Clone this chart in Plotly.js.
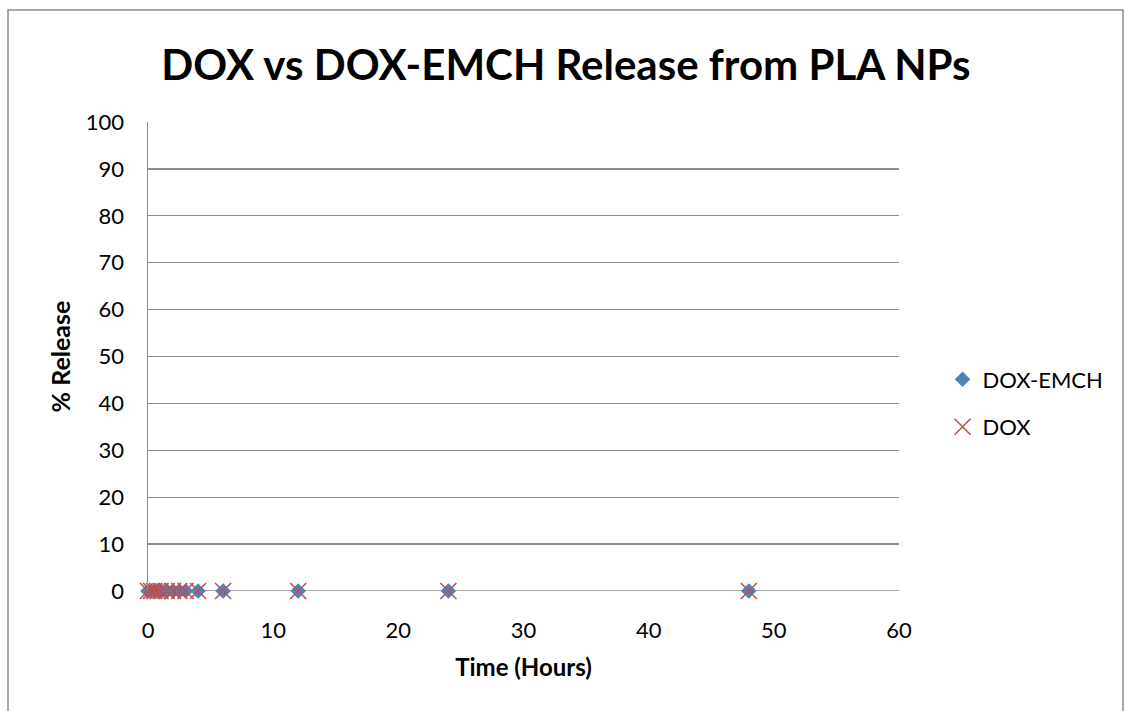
<!DOCTYPE html>
<html>
<head>
<meta charset="utf-8">
<script src="https://cdn.plot.ly/plotly-3.0.1.min.js"></script>
<style>
  html, body { margin: 0; padding: 0; background: #fff; }
  #chart { width: 1125px; height: 711px; }
</style>
</head>
<body>
<div id="chart"></div>
<script>
// Sampling times (hours) and cumulative % release for each formulation
const timeHours = [0, 0.25, 0.5, 0.75, 1, 1.5, 2, 2.5, 3, 4, 6, 12, 24, 48];
const doxEmchRelease = [0, 0, 0, 0, 0, 0, 0, 0, 0, 0, 0, 0, 0, 0];
const doxRelease = [0, 0, 0, 0, 0, 0, 0, 0, 0, 0, 0, 0, 0, 0];

const xTicks = [0, 10, 20, 30, 40, 50, 60];
const yTicks = [0, 10, 20, 30, 40, 50, 60, 70, 80, 90, 100];

const FONT = 'Lato, "Open Sans", sans-serif';

const traces = [
  {
    x: timeHours, y: doxEmchRelease, name: 'DOX-EMCH', legendgroup: 'a',
    type: 'scatter', mode: 'markers', cliponaxis: false,
    marker: { symbol: 'diamond', size: 12, color: '#4F81BD' }
  },
  {
    x: timeHours, y: doxRelease, name: 'DOX', legendgroup: 'b',
    type: 'scatter', mode: 'markers', cliponaxis: false,
    marker: { symbol: 'x-thin-open', size: 16, color: '#C0504D',
              line: { color: '#C0504D', width: 1.6 } }
  }
];

const layout = {
  width: 1125, height: 711,
  margin: { l: 148, r: 226, t: 122, b: 120 },
  paper_bgcolor: '#ffffff', plot_bgcolor: '#ffffff',
  font: { family: FONT, color: '#000', size: 22 },
  title: {
    text: '<b>DOX vs DOX-EMCH Release from PLA NPs</b>',
    font: { family: FONT, size: 42, color: '#000' },
    x: 0.503, xanchor: 'center', y: 0.908, yanchor: 'middle'
  },
  xaxis: {
    range: [0, 60], tickvals: xTicks, ticktext: xTicks.map(String),
    showgrid: false, zeroline: false, showline: false,
    ticks: 'outside', ticklen: 20, tickcolor: 'rgba(0,0,0,0)',
    tickfont: { family: FONT, size: 22 },
    title: { text: '<b>Time (Hours)</b>', font: { family: FONT, size: 24 }, standoff: 16 }
  },
  yaxis: {
    range: [0, 100], tickvals: yTicks, ticktext: yTicks.map(String),
    showgrid: true, gridcolor: '#8c8c8c', gridwidth: 1.3,
    zeroline: false, showline: true, linecolor: '#8c8c8c', linewidth: 1.5,
    ticks: 'outside', ticklen: 18, tickcolor: 'rgba(0,0,0,0)',
    tickfont: { family: FONT, size: 22 },
    title: { text: '<b>% Release</b>', font: { family: FONT, size: 25 }, standoff: 8 }
  },
  showlegend: true,
  legend: {
    x: 1.058, xanchor: 'left', y: 0.4, yanchor: 'middle',
    font: { family: FONT, size: 22 },
    traceorder: 'grouped', tracegroupgap: 16,
    itemwidth: 30, bgcolor: 'rgba(0,0,0,0)'
  },
  shapes: [
    { type: 'line', xref: 'paper', yref: 'y', x0: 0, x1: 1, y0: 0, y1: 0,
      line: { color: '#8c8c8c', width: 1.5 }, layer: 'below' },
    { type: 'rect', xref: 'paper', yref: 'paper',
      x0: -0.1864, x1: 1.2983, y0: -0.3, y1: 1.2388,
      line: { color: '#8c8c8c', width: 1.5 }, fillcolor: 'rgba(0,0,0,0)' }
  ]
};

Plotly.newPlot('chart', traces, layout, { displayModeBar: false, staticPlot: true });
</script>
</body>
</html>
